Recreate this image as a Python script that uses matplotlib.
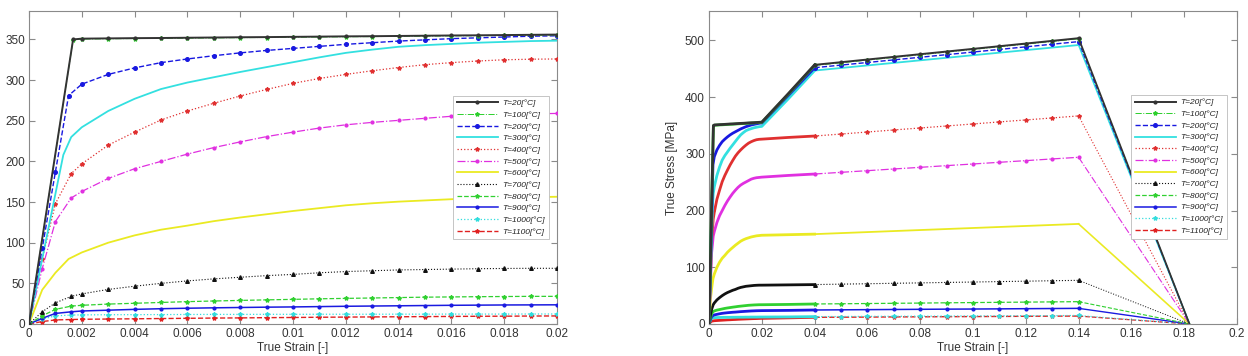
import matplotlib
matplotlib.use("Agg")
import matplotlib.pyplot as plt

plt.rcParams['font.family'] = ['Liberation Sans', 'DejaVu Sans']

# ---------------- data ----------------
temps = [20, 100, 200, 300, 400, 500, 600, 700, 800, 900, 1000, 1100]
labels = ['T=%d[°C]' % t for t in temps]

# common plastic strain grid (left chart range)
eps_grid = [0.002, 0.003, 0.004, 0.005, 0.006, 0.007, 0.008, 0.009, 0.010,
            0.011, 0.012, 0.013, 0.014, 0.015, 0.016, 0.017, 0.018, 0.019, 0.020]
# extension of the curves shown on the right chart
eps_ext = [0.03, 0.04, 0.05, 0.06, 0.07, 0.08, 0.09, 0.10, 0.11, 0.12, 0.13, 0.14, 0.182]

# elastic (initial) parts
eps_el_T20 = [0, 0.00167]
sig_el_T20 = [0, 350]
eps_el_T100 = [0, 0.00167]
sig_el_T100 = [0, 349.5]
eps_el_T200 = [0, 0.0005, 0.001, 0.0015]
sig_el_T200 = [0, 93, 187, 281]
eps_el_T300 = [0, 0.0005, 0.001, 0.0013, 0.0016]
sig_el_T300 = [0, 80, 160, 208, 230]
eps_el_T400 = [0, 0.0005, 0.001, 0.0016]
sig_el_T400 = [0, 80, 148, 185]
eps_el_T500 = [0, 0.0005, 0.001, 0.0016]
sig_el_T500 = [0, 68, 126, 155]
eps_el_T600 = [0, 0.0005, 0.001, 0.0015]
sig_el_T600 = [0, 42, 63, 80]
eps_el_T700 = [0, 0.0005, 0.001, 0.0016]
sig_el_T700 = [0, 15, 26, 34]
eps_el_T800 = [0, 0.0005, 0.001, 0.0016]
sig_el_T800 = [0, 10, 18, 22]
eps_el_T900 = [0, 0.0005, 0.001, 0.0016]
sig_el_T900 = [0, 7, 13, 15]
eps_el_T1000 = [0, 0.0005, 0.001, 0.0016]
sig_el_T1000 = [0, 6, 10, 11]
eps_el_T1100 = [0, 0.0005, 0.001, 0.0016]
sig_el_T1100 = [0, 3, 5, 5.5]

# stresses on eps_grid
sig_T20 = [351, 351.3, 351.6, 351.8, 352.1, 352.4, 352.7, 352.9, 353.2, 353.5,
           353.8, 354, 354.3, 354.6, 354.9, 355.1, 355.4, 355.7, 356]
sig_T100 = [350.5, 350.8, 351.1, 351.3, 351.6, 351.9, 352.2, 352.4, 352.7, 353,
            353.3, 353.5, 353.8, 354.1, 354.4, 354.6, 354.9, 355.2, 355.5]
sig_T200 = [295, 307, 315, 321.5, 326, 330, 333.5, 336.5, 339, 341.5,
            344, 346, 348, 349.5, 351, 352, 353, 354, 354.5]
sig_T300 = [242, 262, 277, 289, 297, 303.5, 310, 316, 322, 328,
            333.5, 337.5, 341, 343, 344.5, 346, 347, 348, 348.5]
sig_T400 = [197, 220, 236, 251, 262, 271.5, 280.5, 288.5, 296, 302,
            307, 311.5, 315.5, 319, 321.5, 323.5, 325, 325.7, 326]
sig_T500 = [163, 179, 191, 200, 209, 217, 224, 230.5, 236, 241,
            245, 248, 250.5, 253, 255.5, 257, 258, 258.5, 259]
sig_T600 = [88, 100, 109, 116, 121, 126.5, 131, 135, 139, 142.5,
            146, 148.5, 150.5, 152, 153.5, 154.5, 155.5, 156, 156.5]
sig_T700 = [37, 42.5, 46.5, 50, 53, 55.5, 57.5, 59.5, 61, 63,
            64.5, 65.5, 66.5, 67, 67.5, 68, 68.3, 68.5, 68.5]
sig_T800 = [23, 24.5, 25.5, 26.5, 27.5, 28.3, 29, 29.7, 30.3, 31,
            31.5, 32, 32.5, 33, 33.3, 33.6, 33.8, 34, 34]
sig_T900 = [16, 17, 18, 18.8, 19.4, 19.9, 20.3, 20.7, 21, 21.4,
            21.8, 22.1, 22.4, 22.7, 23, 23.2, 23.4, 23.5, 23.6]
sig_T1000 = [11.2, 11.4, 11.5, 11.6, 11.7, 11.8, 11.8, 11.9, 11.9, 12,
             12, 12, 12.1, 12.1, 12.2, 12.2, 12.2, 12.3, 12.3]
sig_T1100 = [5.8, 6.1, 6.4, 6.7, 7, 7.3, 7.5, 7.8, 8, 8.3,
             8.5, 8.7, 8.9, 9.1, 9.3, 9.5, 9.6, 9.8, 9.9]

# stresses on eps_ext
sig_ext_T20 = [406, 457, 461.7, 466.4, 471.1, 475.8, 480.5, 485.2, 489.9, 494.6, 499.3, 504, 0]
sig_ext_T100 = [405, 456, 460.7, 465.4, 470.1, 474.8, 479.5, 484.2, 488.9, 493.6, 498.3, 503, 0]
sig_ext_T200 = [403, 452, 456.6, 461.2, 465.8, 470.4, 475, 479.6, 484.2, 488.8, 493.4, 498, 0]
sig_ext_T300 = [397, 447, 451.5, 456, 460.5, 465, 469.5, 474, 478.5, 483, 487.5, 492, 0]
sig_ext_T400 = [329, 331.5, 335, 338.6, 342.2, 345.7, 349.2, 352.8, 356.4, 359.9, 363.4, 367, 0]
sig_ext_T500 = [262, 264.5, 267.5, 270.4, 273.4, 276.3, 279.3, 282.2, 285.2, 288.1, 291.1, 294, 0]
sig_ext_T600 = [157.5, 158.5, 160.3, 162.1, 163.9, 165.7, 167.5, 169.3, 171.1, 172.9, 174.7, 176.5, 0]
sig_ext_T700 = [69, 69.5, 70.3, 71, 71.8, 72.5, 73.3, 74, 74.8, 75.5, 76.3, 77, 0]
sig_ext_T800 = [34.5, 35.3, 35.7, 36.1, 36.5, 36.9, 37.4, 37.8, 38.2, 38.6, 39.0, 39.4, 0]
sig_ext_T900 = [24, 24.7, 25, 25.3, 25.6, 25.9, 26.2, 26.4, 26.7, 27, 27.3, 27.6, 0]
sig_ext_T1000 = [12.5, 13, 13.2, 13.4, 13.6, 13.8, 14, 14.2, 14.4, 14.6, 14.8, 15, 0]
sig_ext_T1100 = [10.8, 11.8, 12, 12.2, 12.5, 12.7, 12.9, 13.1, 13.3, 13.6, 13.8, 14, 0]

left_xticks = [0, 0.002, 0.004, 0.006, 0.008, 0.01, 0.012, 0.014, 0.016, 0.018, 0.02]
left_xticklabels = ['0', '0.002', '0.004', '0.006', '0.008', '0.01', '0.012',
                    '0.014', '0.016', '0.018', '0.02']
left_yticks = [0, 50, 100, 150, 200, 250, 300, 350]
right_xticks = [0, 0.02, 0.04, 0.06, 0.08, 0.1, 0.12, 0.14, 0.16, 0.18, 0.2]
right_xticklabels = ['0', '0.02', '0.04', '0.06', '0.08', '0.1', '0.12',
                     '0.14', '0.16', '0.18', '0.2']
right_yticks = [0, 100, 200, 300, 400, 500]

# ---------------- styles ----------------
styles = [
    dict(color='#333333', ls='-', marker='.', ms=4, lw=1.4),
    dict(color='#2ccf2c', ls='-.', marker='*', ms=3, lw=0.7),
    dict(color='#1818e0', ls='--', marker='o', ms=2.6, lw=1.0),
    dict(color='#33e0e0', ls='-', marker='None', ms=3, lw=1.3),
    dict(color='#e03030', ls=':', marker='*', ms=3, lw=0.9),
    dict(color='#e030e0', ls='-.', marker='.', ms=4, lw=0.9),
    dict(color='#eaea22', ls='-', marker='None', ms=3, lw=1.3),
    dict(color='#111111', ls=':', marker='^', ms=2.6, lw=0.8),
    dict(color='#30d030', ls='--', marker='*', ms=3, lw=0.9),
    dict(color='#1a1ae0', ls='-', marker='.', ms=4, lw=1.1),
    dict(color='#33dddd', ls=':', marker='*', ms=3, lw=0.9),
    dict(color='#e02020', ls='--', marker='*', ms=3, lw=1.0),
]

el_eps = [eps_el_T20, eps_el_T100, eps_el_T200, eps_el_T300, eps_el_T400, eps_el_T500,
          eps_el_T600, eps_el_T700, eps_el_T800, eps_el_T900, eps_el_T1000, eps_el_T1100]
el_sig = [sig_el_T20, sig_el_T100, sig_el_T200, sig_el_T300, sig_el_T400, sig_el_T500,
          sig_el_T600, sig_el_T700, sig_el_T800, sig_el_T900, sig_el_T1000, sig_el_T1100]
grid_sig = [sig_T20, sig_T100, sig_T200, sig_T300, sig_T400, sig_T500,
            sig_T600, sig_T700, sig_T800, sig_T900, sig_T1000, sig_T1100]
ext_sig = [sig_ext_T20, sig_ext_T100, sig_ext_T200, sig_ext_T300, sig_ext_T400, sig_ext_T500,
           sig_ext_T600, sig_ext_T700, sig_ext_T800, sig_ext_T900, sig_ext_T1000, sig_ext_T1100]

W, H = 1248, 356
fig = plt.figure(figsize=(W / 100, H / 100), dpi=100)
ax1 = fig.add_axes([29 / W, (H - 324) / H, 528 / W, 313 / H])
ax2 = fig.add_axes([709 / W, (H - 324) / H, 528 / W, 313 / H])

tick_col = '#333333'
spine_col = '#8a8a8a'

handles = []
for i in range(len(temps)):
    e = list(el_eps[i]) + eps_grid + eps_ext
    s = list(el_sig[i]) + grid_sig[i] + ext_sig[i]
    st = styles[i]
    ln, = ax1.plot(e, s, color=st['color'], ls=st['ls'], lw=st['lw'],
                   marker=st['marker'], ms=st['ms'], mec=st['color'], mfc=st['color'],
                   label=labels[i], zorder=20 - i if i > 1 else 25 - i)
    handles.append(ln)
    i04 = e.index(0.04)
    i14 = e.index(0.14)
    # dense early part (appears as a heavy solid line)
    ax2.plot(e[:i04 + 1], s[:i04 + 1], color=st['color'], ls='-', lw=2.0,
             solid_joinstyle='round', zorder=20 - i)
    ax2.plot(e[i04:i14 + 1], s[i04:i14 + 1], color=st['color'], ls=st['ls'], lw=st['lw'],
             marker=st['marker'], ms=st['ms'], mec=st['color'], mfc=st['color'], zorder=20 - i)
    ax2.plot(e[i14:], s[i14:], color=st['color'], ls=st['ls'], lw=st['lw'] * 0.9,
             zorder=20 - i)

for ax in (ax1, ax2):
    for sp in ax.spines.values():
        sp.set_color(spine_col)
        sp.set_linewidth(0.8)
    ax.tick_params(direction='in', length=4, width=0.8, colors=spine_col,
                   labelcolor=tick_col, labelsize=8.5, top=True, right=True, pad=3)

ax1.set_xlim(0, 0.02)
ax1.set_ylim(0, 385)
ax1.set_xticks(left_xticks)
ax1.set_xticklabels(left_xticklabels)
ax1.set_yticks(left_yticks)
ax1.set_xlabel('True Strain [-]', fontsize=8.5, color=tick_col, labelpad=1)

ax2.set_xlim(0, 0.2)
ax2.set_ylim(0, 552)
ax2.set_xticks(right_xticks)
ax2.set_xticklabels(right_xticklabels)
ax2.set_yticks(right_yticks)
ax2.set_xlabel('True Strain [-]', fontsize=8.5, color=tick_col, labelpad=1)
ax2.set_ylabel('True Stress [MPa]', fontsize=8.5, color=tick_col, labelpad=5)

leg_kw = dict(loc='upper right', labelspacing=0.46, handlelength=4.9,
              handletextpad=0.6, borderpad=0.45, frameon=True, fancybox=False,
              edgecolor='#bbbbbb', framealpha=1.0, borderaxespad=0.0,
              prop=dict(style='italic', size=6))
l1 = ax1.legend(handles=handles, labels=labels, bbox_to_anchor=(0.985, 0.729), **leg_kw)
l2 = ax2.legend(handles=handles, labels=labels, bbox_to_anchor=(0.981, 0.732), **leg_kw)
for lg in (l1, l2):
    lg.get_frame().set_linewidth(0.6)
    lg.set_zorder(50)
    for t in lg.get_texts():
        t.set_color('#222222')

fig.savefig('out.png', dpi=100, facecolor='white')
